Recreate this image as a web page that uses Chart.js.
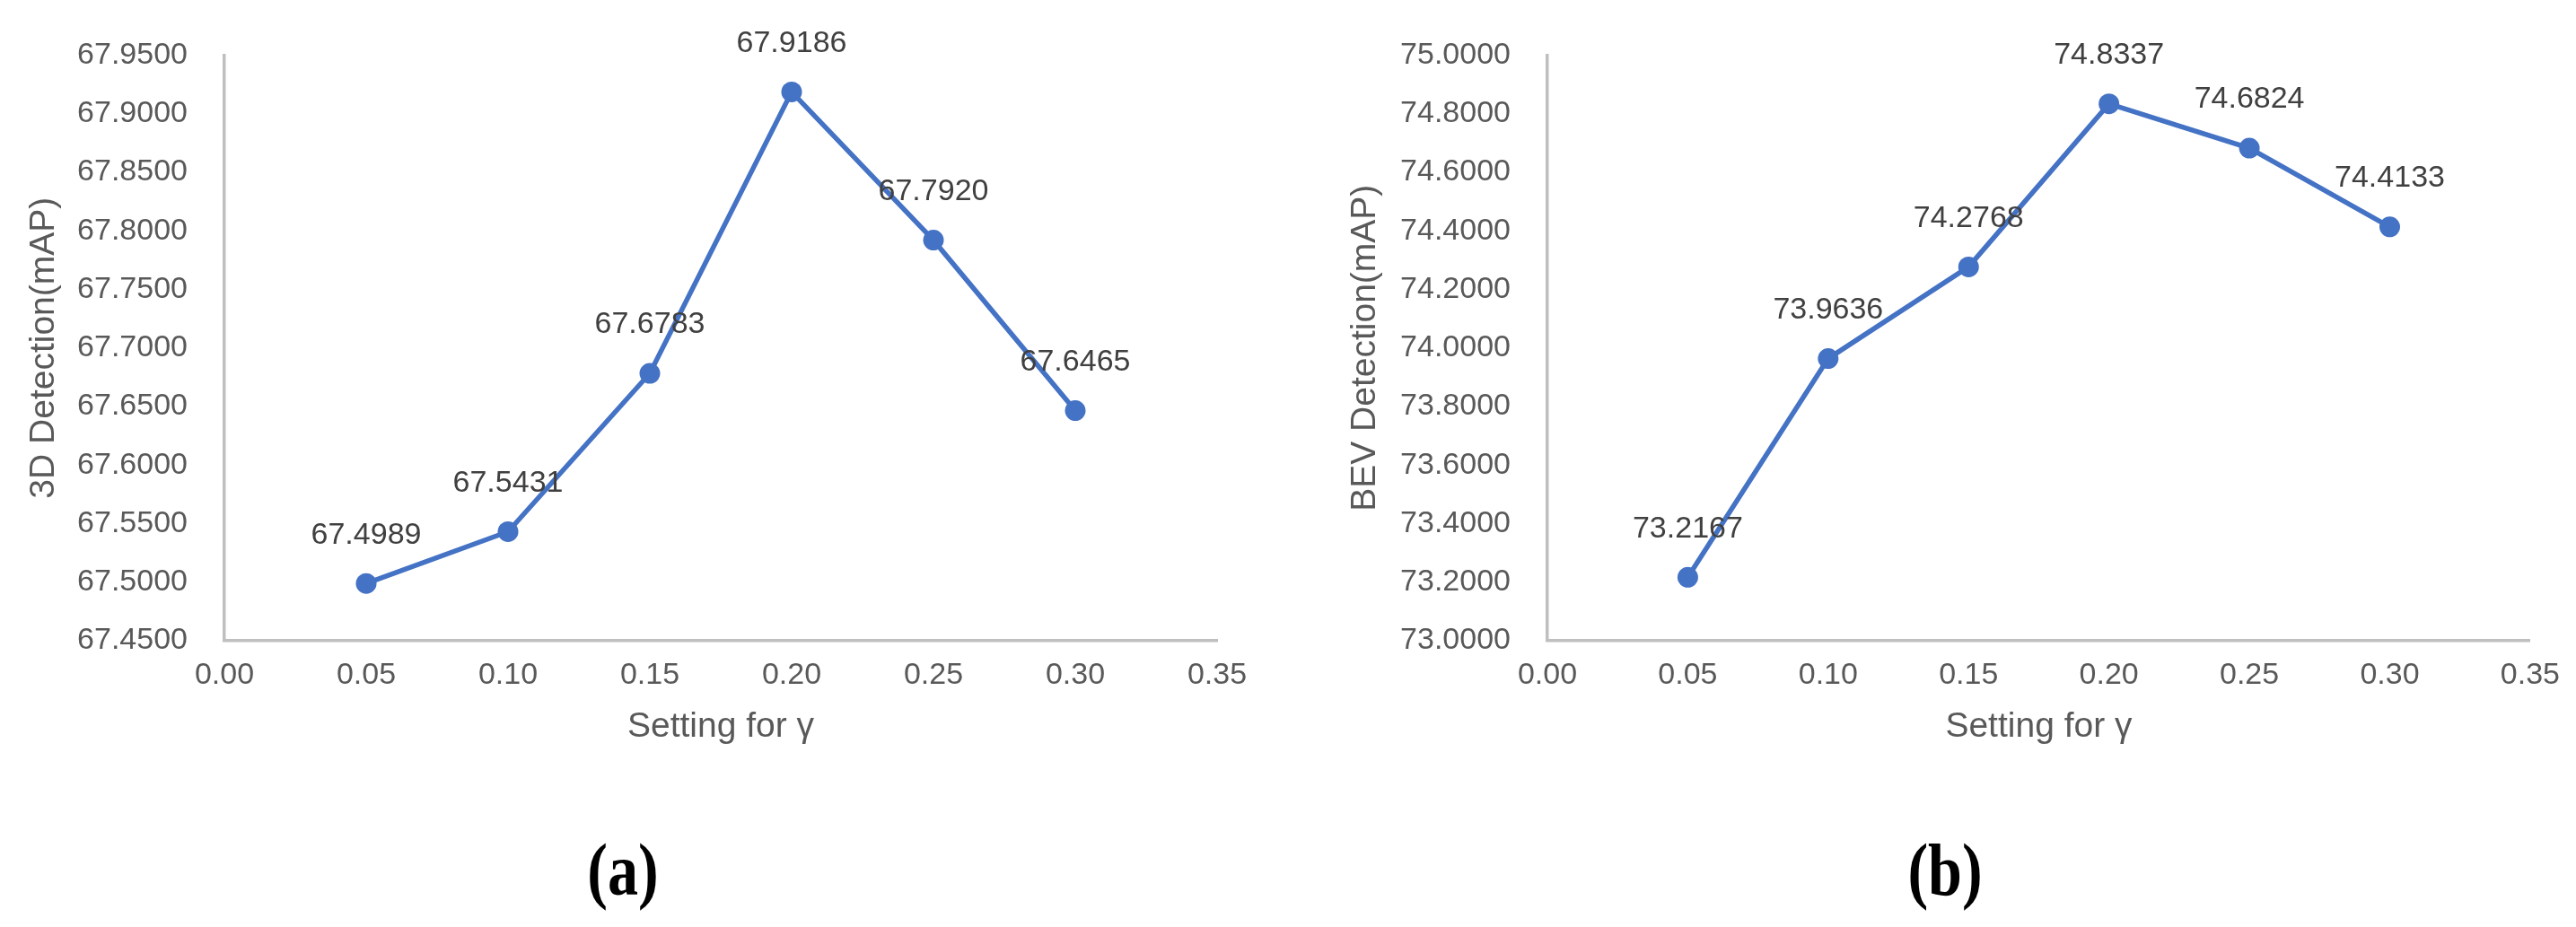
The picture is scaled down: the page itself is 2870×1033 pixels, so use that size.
<!DOCTYPE html>
<html lang="en">
<head>
  <meta charset="UTF-8" />
  <title>Setting for gamma</title>
  <script src="https://cdn.jsdelivr.net/npm/chart.js@4"></script>
  <style>
    body { margin: 0; background: #fff; width: 2870px; height: 1033px; position: relative; overflow: hidden; }
    .panel { position: absolute; top: 0; }
    .caption {
      position: absolute; top: 923px; width: 200px; line-height: 100px;
      text-align: center; font: bold 82px 'Liberation Serif', 'Times New Roman', serif;
      color: #000; transform: scaleX(0.83);
    }
  </style>
</head>
<body>
  <div class="panel" style="left:0"><canvas id="chart3d" width="1435" height="900"></canvas></div>
  <div class="panel" style="left:1435px"><canvas id="chartBev" width="1435" height="900"></canvas></div>
  <div class="caption" style="left:594px">(a)</div>
  <div class="caption" style="left:2067px">(b)</div>

  <script>
    // valeurs
    const gammaValues = [0.05, 0.10, 0.15, 0.20, 0.25, 0.30];
    const map3d = [67.4989, 67.5431, 67.6783, 67.9186, 67.7920, 67.6465];
    const mapBev = [73.2167, 73.9636, 74.2768, 74.8337, 74.6824, 74.4133];

    // axes
    const xMin = 0, xMax = 0.35, xStep = 0.05;
    const y3dMin = 67.45, y3dMax = 67.95, y3dStep = 0.05;
    const yBevMin = 73.0, yBevMax = 75.0, yBevStep = 0.2;

    const xTitle = 'Setting for \u03b3';
    const y3dTitle = '3D Detection(mAP)';
    const yBevTitle = 'BEV Detection(mAP)';

    const FONT = "'Liberation Sans', Arial, sans-serif";
    const BLUE = '#4472C4';
    const GREY_TEXT = '#595959';
    const AXIS = '#BFBFBF';

    Chart.defaults.font.family = FONT;

    // étiquettes de valeurs au-dessus des points
    const valueLabels = {
      id: 'valueLabels',
      afterDatasetsDraw(chart) {
        const ctx = chart.ctx;
        const meta = chart.getDatasetMeta(0);
        const values = chart.data.datasets[0].data;
        ctx.save();
        ctx.font = '34px ' + FONT;
        ctx.fillStyle = '#404040';
        ctx.textAlign = 'center';
        ctx.textBaseline = 'middle';
        meta.data.forEach((pt, i) => {
          ctx.fillText(values[i].y.toFixed(4), pt.x, pt.y - 54);
        });
        ctx.restore();
      }
    };

    const makeChart = (id, values, yMin, yMax, yStep, yTitle, plotLeft, titleOffset, padRight) => {
      return new Chart(document.getElementById(id), {
        type: 'line',
        data: {
          datasets: [{
            data: gammaValues.map((x, i) => ({ x, y: values[i] })),
            borderColor: BLUE,
            backgroundColor: BLUE,
            borderWidth: 5.5,
            pointRadius: 11.5,
            pointBackgroundColor: BLUE,
            pointBorderWidth: 0,
            fill: false,
            tension: 0
          }]
        },
        options: {
          responsive: false,
          animation: false,
          devicePixelRatio: 1,
          layout: { padding: { top: 51, right: padRight, bottom: 66, left: 0 } },
          plugins: { legend: { display: false }, tooltip: { enabled: false } },
          scales: {
            x: {
              type: 'linear',
              min: xMin, max: xMax,
              grid: { display: false, drawTicks: false, tickLength: 0 },
              border: { display: true, color: AXIS, width: 3.5 },
              ticks: {
                stepSize: xStep, padding: 18, color: GREY_TEXT,
                font: { size: 34 }, maxRotation: 0,
                callback: v => Number(v).toFixed(2)
              },
              title: { display: true, text: xTitle, color: GREY_TEXT, font: { size: 39 }, padding: { top: 0, bottom: 0 } },
              afterFit: s => { s.height = 120; }
            },
            y: {
              min: yMin, max: yMax,
              grid: { display: false, drawTicks: false, tickLength: 0 },
              border: { display: true, color: AXIS, width: 3.5 },
              ticks: {
                stepSize: yStep, padding: 41, color: GREY_TEXT,
                font: { size: 34 },
                callback: v => Number(v).toFixed(4)
              },
              title: { display: true, text: yTitle, color: GREY_TEXT, font: { size: 39 }, padding: { top: titleOffset, bottom: 0 } },
              afterFit: s => { s.width = plotLeft; }
            }
          }
        },
        plugins: [valueLabels]
      });
    };

    makeChart('chart3d', map3d, y3dMin, y3dMax, y3dStep, y3dTitle, 250, 26, 79);
    makeChart('chartBev', mapBev, yBevMin, yBevMax, yBevStep, yBevTitle, 289, 63, 42);
  </script>
</body>
</html>
